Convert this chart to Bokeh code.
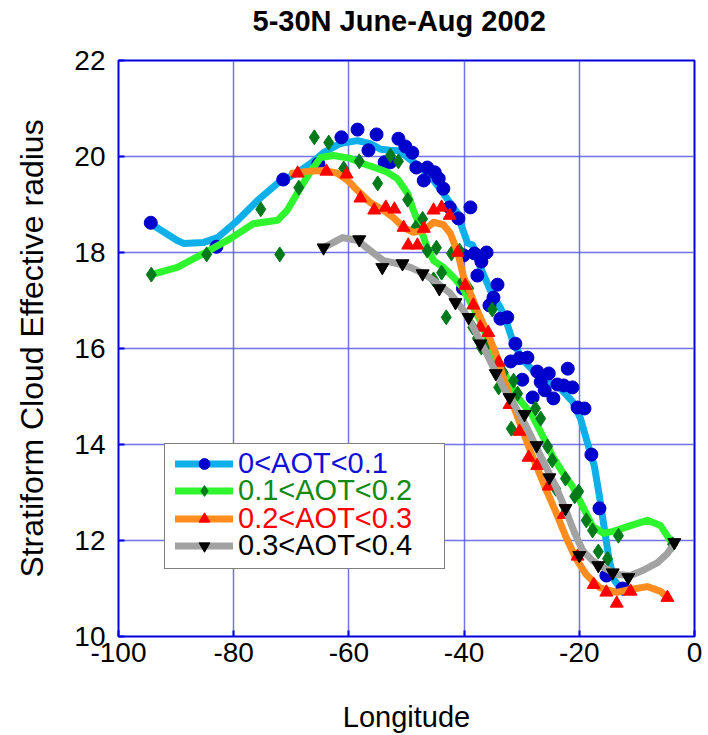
from bokeh.plotting import figure
from bokeh.layouts import column
from bokeh.models import Legend, LegendItem, Range1d, FixedTicker
from bokeh.embed import file_html
from bokeh.resources import INLINE

# ---- data ----
blue_pts_x = [-94.4, -83.0, -71.4, -65.3, -61.3, -58.5, -56.6, -55.2, -53.8, -52.8, -51.4, -50.2, -49.0,
              -48.3, -47.0, -46.4, -45.1, -44.4, -43.6, -42.5, -41.0, -38.9, -40.1, -40.2, -38.2, -36.1,
              -37.0, -37.7, -34.2, -34.9, -35.6, -33.7, -32.5, -31.1, -31.9, -30.4, -29.0, -29.9, -27.3,
              -25.3, -22.0, -26.7, -26.0, -23.8, -22.7, -21.2, -28.1, -24.5, -20.3, -19.1, -17.9, -16.5,
              -15.3, -12.5]
blue_pts_y = [18.62, 18.12, 19.52, 19.85, 20.40, 20.56, 20.13, 20.46, 19.88, 19.88, 20.37, 20.21, 20.08,
              19.77, 19.50, 19.77, 19.67, 19.54, 19.33, 18.94, 18.71, 18.94, 17.94, 17.25, 17.98, 18.00,
              17.81, 17.52, 17.33, 17.06, 16.90, 16.62, 16.65, 16.10, 15.73, 15.80, 15.81, 15.35, 15.52,
              15.48, 15.58, 15.30, 15.13, 15.25, 15.23, 15.19, 14.98, 14.96, 14.77, 14.75, 13.79, 12.67,
              11.27, 11.00]
blue_line_x = [-94.4, -89.8, -88.7, -85.2, -82.8, -79.3, -75.9, -72.4, -68.9, -66.7, -64.4, -61.5, -58.5,
               -56.3, -54.5, -52.8, -51.4, -49.8, -47.6, -45.3, -43.6, -41.1, -40.6, -39.4, -38.5, -37.2,
               -35.4, -33.7, -32.5, -31.4, -29.7, -28.0, -25.5, -23.3, -22.0, -21.2, -19.8, -18.6, -17.4,
               -16.5, -15.6, -14.8, -13.9, -12.3]
blue_line_y = [18.60, 18.25, 18.19, 18.21, 18.31, 18.67, 19.08, 19.44, 19.67, 19.85, 20.08, 20.27, 20.33,
               20.27, 20.15, 20.13, 20.12, 19.98, 19.77, 19.50, 19.23, 18.81, 18.60, 18.20, 18.15, 17.70,
               17.20, 16.85, 16.50, 16.10, 15.75, 15.54, 15.33, 15.17, 15.00, 14.90, 14.54, 14.04, 13.56,
               12.92, 12.21, 11.58, 11.17, 10.92]

green_pts_x = [-94.3, -84.7, -75.3, -72.0, -68.7, -66.0, -63.5, -60.9, -58.2, -55.0, -52.8, -51.4, -49.8,
               -47.2, -48.4, -46.4, -44.8, -43.9, -45.3, -42.2, -40.8, -40.3, -39.2, -43.1, -35.1, -38.5,
               -37.7, -35.8, -37.0, -33.2, -31.4, -34.0, -30.7, -26.7, -27.6, -31.8, -25.5, -24.7, -22.4,
               -24.1, -20.1, -20.8, -18.8, -17.7, -13.2, -16.7, -15.1, -3.8]
green_pts_y = [17.54, 17.96, 18.90, 17.96, 19.35, 20.40, 20.29, 19.75, 19.90, 19.44, 20.02, 19.90, 19.10,
               18.70, 18.52, 18.04, 18.10, 17.58, 17.44, 17.98, 18.04, 17.38, 17.25, 16.65, 16.81, 16.44,
               16.21, 16.13, 16.02, 15.50, 15.33, 15.19, 15.06, 14.54, 14.75, 14.33, 13.96, 13.67, 13.29,
               13.08, 13.02, 12.92, 12.42, 12.21, 12.10, 11.77, 11.62, 11.92]
green_line_x = [-94.3, -89.8, -85.2, -80.6, -76.6, -72.4, -70.7, -68.4, -66.7, -64.9, -62.7, -59.7, -57.5,
                -55.0, -53.3, -51.6, -49.8, -48.8, -47.6, -46.4, -45.3, -43.6, -41.8, -40.3, -38.4, -37.2,
                -35.4, -33.7, -31.9, -30.7, -28.3, -26.4, -24.7, -22.9, -21.2, -19.4, -17.7, -15.8, -14.1,
                -11.1, -8.2, -5.9, -4.2]
green_line_y = [17.54, 17.69, 17.98, 18.29, 18.60, 18.67, 18.88, 19.35, 19.68, 19.98, 20.02, 19.96, 19.85,
                19.75, 19.67, 19.54, 19.23, 18.88, 18.52, 18.10, 17.83, 17.69, 17.48, 17.27, 16.85, 16.58,
                16.02, 15.60, 15.27, 14.98, 14.63, 14.19, 13.77, 13.42, 13.13, 12.71, 12.29, 12.15, 12.19,
                12.31, 12.42, 12.31, 12.00]

red_pts_x = [-68.9, -63.9, -60.4, -58.0, -55.6, -53.6, -52.1, -50.5, -47.0, -49.7, -48.1, -45.3, -43.9,
             -42.5, -41.1, -39.8, -38.4, -37.2, -35.8, -34.0, -32.1, -30.4, -28.8, -27.3, -25.3, -22.7,
             -20.3, -17.5, -15.3, -13.5, -11.1, -4.7]
red_pts_y = [19.65, 19.69, 19.63, 19.13, 18.88, 18.94, 18.90, 18.52, 18.50, 18.15, 18.15, 18.88, 18.94,
             18.77, 18.00, 17.31, 16.90, 16.44, 16.33, 15.71, 14.83, 14.27, 13.73, 13.56, 13.13, 12.54,
             11.67, 11.08, 10.92, 10.69, 10.94, 10.81]
orange_line_x = [-69.8, -67.2, -64.4, -62.0, -60.2, -58.5, -56.3, -54.0, -52.3, -50.5, -48.8, -47.0, -45.3,
                 -43.6, -42.4, -41.1, -40.1, -38.9, -37.5, -35.9, -34.2, -33.2, -31.9, -30.0, -28.3, -25.9,
                 -24.1, -22.4, -20.7, -18.8, -16.5, -13.5, -11.1, -8.2, -5.9, -4.7]
orange_line_y = [19.65, 19.69, 19.71, 19.65, 19.50, 19.29, 19.04, 18.88, 18.73, 18.52, 18.42, 18.46, 18.63,
                 18.58, 18.40, 18.00, 17.50, 17.15, 16.73, 16.31, 15.81, 15.40, 14.95, 14.35, 13.80, 13.10,
                 12.60, 12.10, 11.65, 11.29, 11.02, 10.92, 10.98, 11.04, 10.94, 10.81]

black_pts_x = [-64.4, -58.2, -54.2, -50.7, -47.2, -44.3, -41.5, -39.2, -37.2, -34.5, -32.1, -29.5, -27.4,
               -25.2, -22.4, -20.0, -16.7, -14.2, -11.5, -3.5]
black_pts_y = [18.10, 18.27, 17.69, 17.77, 17.56, 17.25, 16.96, 16.65, 16.10, 15.48, 14.98, 14.63, 13.98,
               13.31, 12.67, 11.69, 11.48, 11.33, 11.23, 11.96]
gray_line_x = [-64.4, -61.1, -58.5, -56.3, -54.0, -51.6, -49.3, -47.0, -45.3, -42.4, -40.1, -38.4, -36.6,
               -34.9, -33.2, -31.3, -29.3, -27.6, -25.9, -24.1, -22.4, -20.8, -19.4, -17.7, -15.8, -13.5,
               -11.1, -8.9, -6.4, -4.7, -3.5]
gray_line_y = [18.10, 18.31, 18.25, 18.04, 17.83, 17.77, 17.69, 17.56, 17.42, 17.15, 16.79, 16.44, 16.02,
               15.60, 15.19, 14.83, 14.40, 13.98, 13.56, 13.13, 12.65, 12.15, 11.79, 11.58, 11.44, 11.29,
               11.27, 11.38, 11.54, 11.73, 11.94]

title_text = "5-30N June-Aug 2002"
labels = ["0<AOT<0.1", "0.1<AOT<0.2", "0.2<AOT<0.3", "0.3<AOT<0.4"]
x_ticks = [-100, -80, -60, -40, -20, 0]
x_tick_labels = ["-100", "-80", "-60", "-40", "-20", "0"]
y_ticks = [10, 12, 14, 16, 18, 20, 22]

FONT = "Liberation Sans"
AXIS_BLUE = "#0000dd"
BORDER_L, BORDER_R = 118, 14

# ---- title strip (its own small figure, nothing drawn but the title) ----
tf = figure(width=708, height=44, x_range=Range1d(0, 1), y_range=Range1d(0, 1),
            output_backend="svg", toolbar_location=None,
            min_border_left=BORDER_L, min_border_right=BORDER_R, min_border_top=0, min_border_bottom=0)
tf.title.text = title_text
tf.title.align = "left"
tf.title.offset = 134
tf.title.vertical_align = "top"
tf.title.standoff = 12
tf.title.text_font = FONT
tf.title.text_font_size = "29px"
tf.title.text_font_style = "bold"
tf.title.text_color = "black"
tf.outline_line_color = None
tf.xaxis.visible = False
tf.yaxis.visible = False
tf.xgrid.visible = False
tf.ygrid.visible = False

# ---- main chart ----
p = figure(width=708, height=691, x_range=Range1d(-100, 0), y_range=Range1d(10, 22),
           output_backend="svg", toolbar_location=None,
           min_border_left=BORDER_L, min_border_right=BORDER_R, min_border_top=16, min_border_bottom=99)

p.outline_line_color = AXIS_BLUE
p.outline_line_width = 2
p.outline_line_alpha = 1

for g in (p.xgrid[0], p.ygrid[0]):
    g.grid_line_color = "#5a5ae6"
    g.grid_line_width = 1.5
    g.grid_line_alpha = 0.85
p.xgrid[0].ticker = FixedTicker(ticks=x_ticks)
p.ygrid[0].ticker = FixedTicker(ticks=y_ticks)

for ax in (p.xaxis[0], p.yaxis[0]):
    ax.axis_line_color = None
    ax.major_tick_in = 6
    ax.major_tick_out = 0
    ax.major_tick_line_color = AXIS_BLUE
    ax.major_tick_line_width = 2
    ax.minor_tick_line_color = None
    ax.major_label_text_font = FONT
    ax.major_label_text_font_size = "28px"
    ax.major_label_text_color = "black"
    ax.axis_label_text_font = FONT
    ax.axis_label_text_font_style = "normal"
    ax.axis_label_text_color = "black"

p.xaxis[0].ticker = FixedTicker(ticks=x_ticks)
p.xaxis[0].major_label_overrides = dict(zip(x_ticks, x_tick_labels))
p.yaxis[0].ticker = FixedTicker(ticks=y_ticks)
p.xaxis[0].axis_label = "Longitude"
p.yaxis[0].axis_label = "Stratiform Cloud Effective radius"
p.xaxis[0].axis_label_text_font_size = "29px"
p.yaxis[0].axis_label_text_font_size = "32px"
p.xaxis[0].major_label_standoff = 6
p.xaxis[0].axis_label_standoff = 36
p.yaxis[0].major_label_standoff = 13
p.yaxis[0].axis_label_standoff = 21

LW = 7
l1 = p.line(blue_line_x, blue_line_y, line_color="#0fb0ea", line_width=LW, line_join="round", line_cap="round")
m1 = p.scatter(blue_pts_x, blue_pts_y, marker="circle", size=13, fill_color="#0000cc", line_color="#0000cc")
l2 = p.line(green_line_x, green_line_y, line_color="#2ef52e", line_width=LW, line_join="round", line_cap="round")
m2 = p.scatter(green_pts_x, green_pts_y, marker="diamond", size=15, fill_color="#007a1a", line_color="#007a1a")
l3 = p.line(orange_line_x, orange_line_y, line_color="#ff8c1f", line_width=LW, line_join="round", line_cap="round")
m3 = p.scatter(red_pts_x, red_pts_y, marker="triangle", size=13, fill_color="#ff0000", line_color="#ff0000")
l4 = p.line(gray_line_x, gray_line_y, line_color="#a2a2a2", line_width=LW, line_join="round", line_cap="round")
m4 = p.scatter(black_pts_x, black_pts_y, marker="inverted_triangle", size=13, fill_color="black", line_color="black")

renderers = [[l1, m1], [l2, m2], [l3, m3], [l4, m4]]
text_colors = ["#1010d8", "#138a13", "#ff0000", "#000000"]

# legend frame (box only: blank items, no glyphs)
frame = Legend(items=[LegendItem(label=" ", renderers=[]) for _ in labels], location=(46, 67))
frame.label_text_font = FONT
frame.label_text_font_size = "1px"
frame.label_text_alpha = 0
frame.glyph_width = 246
frame.glyph_height = 29
frame.label_height = 29
frame.label_standoff = 5
frame.spacing = 0
frame.padding = 4
frame.margin = 0
frame.border_line_color = "black"
frame.border_line_width = 1.5
frame.background_fill_color = "white"
frame.background_fill_alpha = 1
p.add_layout(frame, "center")

ROW = 27.5
Y_LAST = 74
for i, (t, r, c) in enumerate(zip(labels, renderers, text_colors)):
    lg = Legend(items=[LegendItem(label=t, renderers=r)], location=(57, Y_LAST + (3 - i) * ROW))
    lg.label_text_font = FONT
    lg.label_text_font_size = "29px"
    lg.label_text_color = c
    lg.glyph_width = 58
    lg.glyph_height = 27
    lg.label_height = 27
    lg.label_standoff = 5
    lg.spacing = 0
    lg.padding = 0
    lg.margin = 0
    lg.border_line_color = None
    lg.background_fill_alpha = 0
    p.add_layout(lg, "center")

layout = column(tf, p, spacing=0)
open("out.html", "w").write(file_html(layout, INLINE))
